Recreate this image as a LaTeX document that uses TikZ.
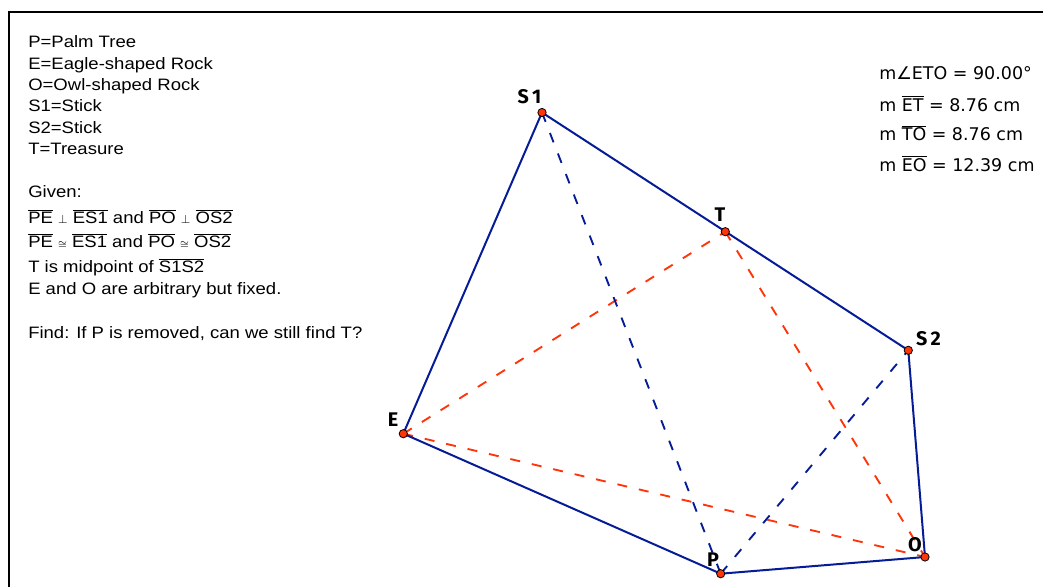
\documentclass[tikz,border=0pt]{standalone}
\usepackage{fontspec}
\setmainfont{Liberation Sans}
\newfontfamily\leftfont[FakeStretch=1.12]{Liberation Sans}
\newfontfamily\measfont{DejaVu Sans}
\newfontfamily\labfont{Fira Sans}
\definecolor{segblue}{RGB}{5,28,150}
\definecolor{segred}{RGB}{255,52,8}
\newcommand{\ovl}[1]{$\overline{\hbox{#1}}$}
\newcommand{\perpsym}{\ \smash{\small$\perp$}\ }
\newcommand{\congsym}{\ \smash{\footnotesize$\cong$}\ }
\begin{document}
\begin{tikzpicture}[x=0.75pt,y=-0.75pt,
  solidseg/.style={segblue,line width=1.5pt},
  dashblue/.style={segblue,line width=1.4pt,dash pattern=on 7.5pt off 9pt},
  dashred/.style={segred,line width=1.4pt,dash pattern=on 7.5pt off 9pt},
  ptdot/.style={circle,draw=black,fill=segred,line width=0.6pt,inner sep=0pt,minimum size=6.2pt},
  ptlab/.style={font=\labfont\bfseries\fontsize{14.8pt}{16pt}\selectfont,inner sep=0pt},
  lefttext/.style={anchor=base west,inner sep=0pt,font=\leftfont\fontsize{12.4pt}{15pt}\selectfont},
  meastext/.style={anchor=base west,inner sep=0pt,font=\measfont\fontsize{13.1pt}{15pt}\selectfont}]
\useasboundingbox (0,0) rectangle (1043,586);
\fill[white] (0,0) rectangle (1043,586);
\draw[line width=1.5pt] (9,587) -- (9,12) -- (1044,12);

% points
\coordinate (S1) at (542,112.5);
\coordinate (T) at (725.3,231.7);
\coordinate (S2) at (908.3,350.3);
\coordinate (E) at (403.3,433.7);
\coordinate (P) at (720.7,573.7);
\coordinate (O) at (925,557);

% dashed segments
\draw[dashred] (E) -- (T);
\draw[dashred] (T) -- (O);
\draw[dashred] (E) -- (O);
\draw[dashblue] (S1) -- (P);
\draw[dashblue] (P) -- (S2);

% solid segments
\draw[solidseg] (E) -- (S1) -- (S2) -- (O) -- (P) -- cycle;

% dots
\foreach \p in {S1,T,S2,E,P,O} \node[ptdot] (dot\p) at (\p) {};

% labels
\node[ptlab] (labS1) at (529.5,96.5) {S\kern2.5pt1};
\node[ptlab] (labT) at (720,215) {T};
\node[ptlab] (labS2) at (928.5,338.5) {S\kern2.5pt2};
\node[ptlab] (labE) at (393,420) {E};
\node[ptlab] (labP) at (713,560) {P};
\node[ptlab] (labO) at (915,545) {O};

% left text
\node[lefttext] (l1) at (28,47.7) {P=Palm Tree};
\node[lefttext] (l2) at (28,69.3) {E=Eagle-shaped Rock};
\node[lefttext] (l3) at (28,90.5) {O=Owl-shaped Rock};
\node[lefttext] (l4) at (28,111.7) {S1=Stick};
\node[lefttext] (l5) at (28,133.3) {S2=Stick};
\node[lefttext] (l6) at (28,154.5) {T=Treasure};
\node[lefttext] (l7) at (28,197.7) {Given:};
\node[lefttext] (l8) at (28,223.3) {\ovl{PE}\perpsym\ovl{ES1} and \ovl{PO}\perpsym\ovl{OS2}};
\node[lefttext] (l9) at (28,247.7) {\ovl{PE}\congsym\ovl{ES1} and \ovl{PO}\congsym\ovl{OS2}};
\node[lefttext] (l10) at (28,272.7) {T is midpoint of \ovl{S1S2}};
\node[lefttext] (l11) at (28,294.5) {E and O are arbitrary but fixed.};
\node[lefttext] (l12) at (28,338.3) {Find: If P is removed, can we still find T?};

% measurements
\node[meastext] (m1) at (879,79.5) {m∠ETO = 90.00°};
\node[meastext] (m2) at (879,111) {m \ovl{ET} = 8.76 cm};
\node[meastext] (m3) at (879,140.7) {m \ovl{TO} = 8.76 cm};
\node[meastext] (m4) at (879,171) {m \ovl{EO} = 12.39 cm};
\end{tikzpicture}
\end{document}
